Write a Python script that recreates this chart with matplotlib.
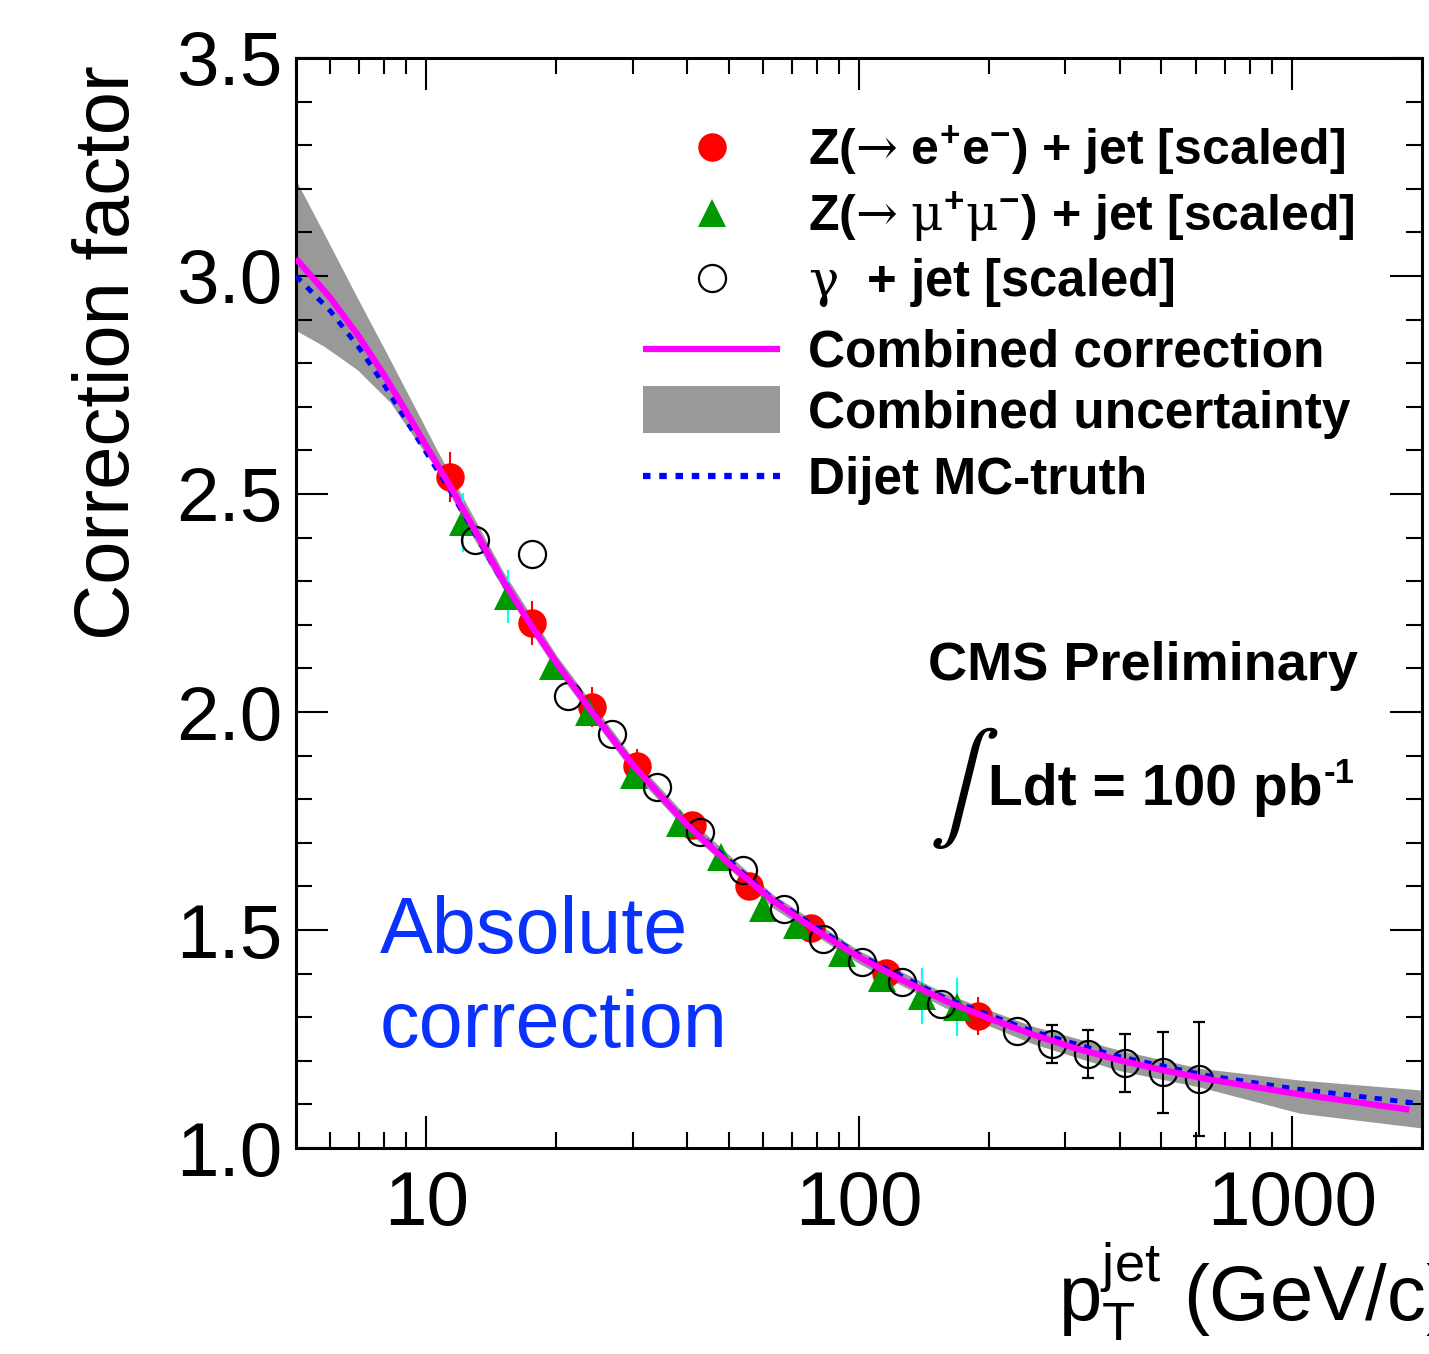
import numpy as np
import matplotlib
matplotlib.use("Agg")
import matplotlib.pyplot as plt
from matplotlib.ticker import MultipleLocator, LogLocator, NullFormatter
from matplotlib.patches import Rectangle

nan = float('nan')

# Z(->ee) + jet
ee_pt = [11.36, 17.57, 24.18, 30.71, 41.15, 55.71, 77.47, 115.4, 188.3]
ee_cf = [2.539, 2.204, 2.011, 1.876, 1.741, 1.601, 1.505, 1.401, 1.303]
ee_err = [0.058, 0.050, 0.046, 0.040, 0.025, 0.025, 0.025, 0.025, 0.043]

# Z(->mumu) + jet
mm_pt = [12.18, 15.47, 19.65, 23.79, 30.22, 38.61, 48.01, 60.02, 71.93, 91.34, 113.0, 139.8, 168.4]
mm_cf = [2.435, 2.265, 2.105, 2.000, 1.856, 1.745, 1.667, 1.550, 1.511, 1.447, 1.390, 1.349, 1.323]
mm_err = [0.068, 0.060, nan, nan, nan, nan, nan, nan, nan, nan, nan, 0.064, 0.067]

# gamma + jet
gj_pt = [12.98, 17.57, 21.28, 26.89, 34.17, 42.94, 53.97, 67.12, 82.59, 101.6, 125.7, 154.7,
         231.7, 279.1, 338.0, 411.5, 503.7, 609.9]
gj_cf = [2.394, 2.362, 2.037, 1.950, 1.828, 1.725, 1.638, 1.548, 1.479, 1.427, 1.381, 1.330,
         1.268, 1.2385, 1.2156, 1.195, 1.174, 1.158]
gj_err = [nan, nan, nan, nan, nan, nan, nan, nan, nan, nan, nan, nan,
          nan, 0.044, 0.056, 0.067, 0.093, 0.130]

# combined correction
comb_pt = [5, 6, 7, 8, 9, 10, 11.4, 15, 17.6, 20, 24.2, 30, 39.8, 50.1, 63.1, 79.4, 100, 126, 158,
           200, 251, 316, 398, 501, 631, 1000, 1870]
comb_cf = [3.04, 2.95, 2.86, 2.772, 2.688, 2.61, 2.515, 2.304, 2.194, 2.113, 1.999, 1.879, 1.744,
           1.652, 1.568, 1.50, 1.438, 1.385, 1.338, 1.297, 1.261, 1.229, 1.202, 1.179, 1.159, 1.126, 1.088]

# combined uncertainty band
band_pt = [5, 5.78, 6.93, 8.26, 9.84, 10.6, 12.5, 15, 20, 30, 40, 63, 100, 158, 251, 398, 613, 1043, 2000]
band_hi = [3.22, 3.101, 2.95, 2.807, 2.662, 2.60, 2.47, 2.325, 2.13, 1.895, 1.76, 1.583, 1.453, 1.355,
           1.28, 1.225, 1.183, 1.156, 1.133]
band_lo = [2.875, 2.84, 2.785, 2.71, 2.60, 2.555, 2.42, 2.285, 2.095, 1.862, 1.728, 1.552, 1.423, 1.322,
           1.24, 1.178, 1.14, 1.08, 1.046]

# dijet MC truth
mc_pt = [5, 6, 7, 8, 9, 10, 11.4, 15, 20, 30, 39.8, 63.1, 100, 158, 251, 398, 631, 1000, 1940]
mc_cf = [3.0, 2.92, 2.835, 2.75, 2.668, 2.595, 2.505, 2.30, 2.112, 1.88, 1.746, 1.572, 1.443, 1.344,
         1.268, 1.21, 1.167, 1.137, 1.103]

xticks = [10, 100, 1000]
xtick_labels = ["10", "100", "1000"]
yticks = [1.0, 1.5, 2.0, 2.5, 3.0, 3.5]
ytick_labels = ["1.0", "1.5", "2.0", "2.5", "3.0", "3.5"]

legend_labels = [r'Z($\mathrm{→}$ e$^{\mathbf{+}}$e$^{\mathbf{-}}$) + jet [scaled]',
                 r'Z($\mathrm{→}$ $\mathrm{\mu}^{\mathbf{+}}\mathrm{\mu}^{\mathbf{-}}$) + jet [scaled]',
                 r'$\mathrm{\gamma}$  + jet [scaled]',
                 'Combined correction',
                 'Combined uncertainty',
                 'Dijet MC-truth']

plt.rcParams['font.family'] = ['Liberation Sans', 'DejaVu Sans']
plt.rcParams['mathtext.fontset'] = 'custom'
plt.rcParams['mathtext.rm'] = 'DejaVu Serif'
plt.rcParams['mathtext.it'] = 'Liberation Sans:italic'
plt.rcParams['mathtext.bf'] = 'Liberation Sans:bold'
plt.rcParams['mathtext.sf'] = 'Liberation Sans'

RED = '#ff0000'
GREEN = '#009900'
CYAN = '#00ffff'
MAGENTA = '#ff00ff'
BLUE = '#0000ff'
GREY = '#999999'
dotted = (0, (1.5, 1.7))

fig = plt.figure(figsize=(14.29, 13.54), dpi=100)
ax = fig.add_axes([0.2071, 0.1521, 0.7880, 0.8051])

ax.fill_between(band_pt, band_lo, band_hi, color=GREY, lw=0, zorder=1)

ax.errorbar(ee_pt, ee_cf, yerr=ee_err, fmt='o', color=RED, ms=20.5, mew=0,
            ecolor=RED, elinewidth=1.5, capsize=4.5, capthick=1.5, zorder=3)
ax.errorbar(mm_pt, mm_cf, yerr=mm_err, fmt='^', color=GREEN, ms=20, mew=0,
            ecolor=CYAN, elinewidth=1.5, capsize=4.5, capthick=1.5, zorder=3)
ax.errorbar(gj_pt, gj_cf, yerr=gj_err, fmt='o', mfc='none', mec='black', ms=19.5, mew=1.6,
            ecolor='black', elinewidth=1.5, capsize=4.5, capthick=1.5, zorder=3)

ax.plot(mc_pt, mc_cf, color=BLUE, lw=3.5, ls=dotted, zorder=4)
ax.plot(comb_pt, comb_cf, color=MAGENTA, lw=4.5, zorder=5, solid_capstyle='butt')

ax.set_xscale('log')
ax.set_xlim(5, 2000)
ax.set_ylim(1.0, 3.5)
ax.set_xticks(xticks)
ax.set_xticklabels(xtick_labels)
ax.xaxis.set_minor_locator(LogLocator(base=10, subs=np.arange(2, 10)))
ax.xaxis.set_minor_formatter(NullFormatter())
ax.set_yticks(yticks)
ax.set_yticklabels(ytick_labels)
ax.yaxis.set_minor_locator(MultipleLocator(0.1))

ax.tick_params(which='both', direction='in', top=True, right=True, width=1.5, labelsize=55)
ax.tick_params(which='major', length=23)
ax.tick_params(which='minor', length=11.5)
ax.tick_params(axis='x', pad=16)
ax.tick_params(axis='y', pad=10)
for sp in ax.spines.values():
    sp.set_linewidth(2.2)

ax.text(1.023, -0.158, r'$\mathsf{p}_{\mathsf{T}}^{\mathsf{jet}}$ (GeV/c)', transform=ax.transAxes,
        ha='right', va='baseline', fontsize=56, clip_on=False)
fig.text(0.0756, 0.952, 'Correction factor', rotation=90, ha='center', va='top', fontsize=56)

# legend drawn by hand
row_y = [0.9183, 0.8578, 0.7982, 0.7330, 0.6771, 0.6165]
row_fs = [36, 36, 36.5, 37, 37, 37]
mx, lx0, lx1, tx = 0.3694, 0.3082, 0.4298, 0.4547
tr = ax.transAxes
ax.plot([mx], [row_y[0]], 'o', color=RED, ms=20.5, mew=0, transform=tr, clip_on=False, zorder=6)
ax.plot([mx], [row_y[1]], '^', color=GREEN, ms=20, mew=0, transform=tr, clip_on=False, zorder=6)
ax.plot([mx], [row_y[2]], 'o', mfc='none', mec='black', ms=19.5, mew=1.6, transform=tr, clip_on=False, zorder=6)
ax.plot([lx0, lx1], [row_y[3]] * 2, color=MAGENTA, lw=4.5, transform=tr, solid_capstyle='butt', zorder=6)
ax.add_patch(Rectangle((lx0, 0.656), lx1 - lx0, 0.043, transform=tr, color=GREY, lw=0, zorder=6))
ax.plot([lx0, lx1], [row_y[5]] * 2, color=BLUE, lw=4.5, ls=(0, (1.2, 1.4)), transform=tr, zorder=6)
for y, lab, fs in zip(row_y, legend_labels, row_fs):
    ax.text(tx, y - 0.0165, lab, transform=tr, ha='left', va='baseline', fontsize=fs,
            fontweight='bold', zorder=7)

ax.text(0.752, 0.4294, 'CMS Preliminary', transform=tr, ha='center', va='baseline',
        fontsize=39, fontweight='bold')
ax.text(0.593, 0.330, r'$\int$', transform=tr, ha='center', va='center', fontsize=76,
        math_fontfamily='stix')
lumi = ax.text(0.6146, 0.3147, 'Ldt = 100 pb', transform=tr, ha='left', va='baseline',
               fontsize=41, fontweight='bold')
ax.annotate('-1', xy=(1, 1), xycoords=lumi, xytext=(1, 4), textcoords='offset points',
            ha='left', va='top', fontsize=25, fontweight='bold')

ax.text(0.0746, 0.179, 'Absolute', transform=tr, ha='left', va='baseline', fontsize=57, color='#0a32ff')
ax.text(0.0746, 0.0927, 'correction', transform=tr, ha='left', va='baseline', fontsize=57, color='#0a32ff')

fig.savefig('out.png', dpi=100)
